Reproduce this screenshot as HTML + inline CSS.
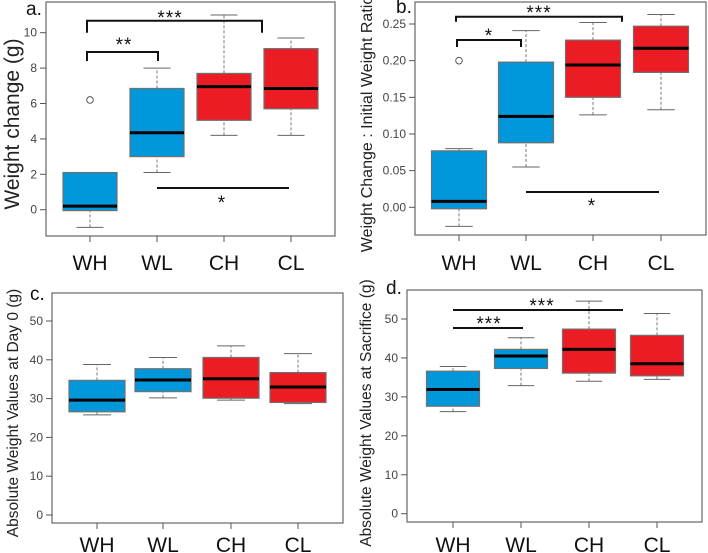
<!DOCTYPE html>
<html><head><meta charset="utf-8"><style>
body{margin:0;background:#fff;}
svg{display:block;font-family:"Liberation Sans",Arial,sans-serif;}
</style></head><body>
<svg id="fig" width="708" height="553"></svg>
<script>
const categories = ["WH","WL","CH","CL"];
const colors = ["#0098da","#0098da","#ec1c24","#ec1c24"];
// [low whisker, q1, median, q3, high whisker]
const statsA = [[-1,-0.05,0.2,2.1,2.1],[2.1,3.0,4.35,6.85,8.0],[4.2,5.05,6.95,7.7,11.0],[4.2,5.7,6.85,9.1,9.7]];
const outliersA = [[6.2],[],[],[]];
const ticksA = [0,2,4,6,8,10];
const statsB = [[-0.026,-0.002,0.008,0.077,0.080],[0.055,0.088,0.124,0.198,0.241],[0.126,0.150,0.194,0.228,0.252],[0.133,0.184,0.217,0.247,0.263]];
const outliersB = [[0.200],[],[],[]];
const ticksB = [0,0.05,0.10,0.15,0.20,0.25];
const tickLabelsB = ["0.00","0.05","0.10","0.15","0.20","0.25"];
const statsC = [[25.8,26.6,29.6,34.7,38.8],[30.2,31.8,34.8,37.7,40.6],[29.6,30.1,35.1,40.6,43.6],[28.7,29.0,33.0,36.7,41.6]];
const ticksC = [0,10,20,30,40,50];
const statsD = [[26.2,27.6,31.9,36.6,37.8],[32.9,37.3,40.5,42.2,45.2],[34.0,36.1,42.2,47.4,54.6],[34.5,35.4,38.5,45.8,51.4]];
const ticksD = [0,10,20,30,40,50];

const svg=document.getElementById('fig');
const NS='http://www.w3.org/2000/svg';
function mk(tag,attrs,parent,text){const e=document.createElementNS(NS,tag);for(const k in attrs)e.setAttribute(k,attrs[k]);if(text!==undefined)e.textContent=text;(parent||svg).appendChild(e);return e;}

function panel(p){
  const g=mk('g',{});
  
  
  const y=v=>p.y0+(v-p.v0)*(p.y1-p.y0)/(p.v1-p.v0);
  const fr=mk('rect',{x:p.fl,y:p.ft,width:p.fr-p.fl,height:p.fb-p.ft,fill:'none',stroke:'#666','stroke-width':1.2},g);
  
  p.ticks.forEach((t,i)=>{
    const yy=y(t);
    mk('line',{x1:p.fl-6,x2:p.fl,y1:yy,y2:yy,stroke:'#555'},g);
    const tl=mk('text',{x:p.fl-9,y:yy+4,'font-size':12,fill:'#444','text-anchor':'end'},g,p.tickLabels?p.tickLabels[i]:String(t));
    
  });
  const yt=mk('text',{x:0,y:0,'font-size':p.tfs,fill:'#222','text-anchor':'middle',transform:`translate(${p.tx},${p.ty}) rotate(-90)`},g,p.title);
  
  const lb=mk('text',{x:p.lx,y:p.ly,'font-size':19,fill:'#111'},g,p.id+'.');
  
  categories.forEach((c,i)=>{
    const cx=p.cx[i], s=p.stats[i], w=p.bw;
    mk('line',{x1:cx,x2:cx,y1:p.fb,y2:p.fb+6,stroke:'#555'},g);
    const xl=mk('text',{x:cx,y:p.lby,'font-size':21,fill:'#111','text-anchor':'middle'},g,c);
    
    const bg=mk('g',{},g);
    
    mk('line',{x1:cx,x2:cx,y1:y(s[0]),y2:y(s[1]),stroke:'#777','stroke-dasharray':'3,2'},bg);
    mk('line',{x1:cx,x2:cx,y1:y(s[3]),y2:y(s[4]),stroke:'#777','stroke-dasharray':'3,2'},bg);
    mk('line',{x1:cx-w/4,x2:cx+w/4,y1:y(s[0]),y2:y(s[0]),stroke:'#666'},bg);
    mk('line',{x1:cx-w/4,x2:cx+w/4,y1:y(s[4]),y2:y(s[4]),stroke:'#666'},bg);
    mk('rect',{x:cx-w/2,y:y(s[3]),width:w,height:y(s[1])-y(s[3]),fill:colors[i],stroke:'#707070','stroke-width':1.2},bg);
    mk('line',{x1:cx-w/2,x2:cx+w/2,y1:y(s[2]),y2:y(s[2]),stroke:'#000','stroke-width':3},bg);
    (p.out?p.out[i]:[]).forEach(o=>{
      const oc=mk('circle',{cx:cx,cy:y(o),r:3.3,fill:'#fff',stroke:'#555'},bg);
      
    });
  });
  (p.sig||[]).forEach(s=>{
    const sg=mk('g',{},g);
    
    const d=s.drop?`M${s.x1},${s.y+s.drop}V${s.y}H${s.x2}V${s.y+s.drop}`:`M${s.x1},${s.y}H${s.x2}`;
    mk('path',{d:d,fill:'none',stroke:'#111','stroke-width':2},sg);
    mk('text',{x:s.tx,y:s.ty,'font-size':19,fill:'#111','text-anchor':'middle','letter-spacing':1},sg,s.t);
  });
}

panel({id:'a',fl:46,fr:335,ft:2,fb:236,v0:0,y0:209.7,v1:10,y1:32.7,ticks:ticksA,stats:statsA,out:outliersA,
  cx:[90,157,224,291],bw:54,lby:270,title:'Weight change (g)',tfs:21,tx:19,ty:124,lx:26,ly:15,
  sig:[{x1:87,x2:262,y:20.7,drop:12,t:'***',tx:170,ty:24},{x1:87,x2:158,y:52,drop:9,t:'**',tx:124,ty:51},{x1:157,x2:289,y:188,t:'*',tx:222,ty:209}]});
panel({id:'b',fl:415,fr:706,ft:2,fb:235,v0:0,y0:207.3,v1:0.25,y1:24,ticks:ticksB,tickLabels:tickLabelsB,stats:statsB,out:outliersB,
  cx:[459,526,593,661],bw:55,lby:270,title:'Weight Change : Initial Weight Ratio',tfs:16,tx:372,ty:124,lx:396,ly:13,
  sig:[{x1:456,x2:622,y:16.7,drop:5,t:'***',tx:539,ty:19},{x1:457,x2:521,y:40,drop:7,t:'*',tx:489,ty:42},{x1:526,x2:659,y:192,t:'*',tx:592,ty:212}]});
panel({id:'c',fl:52,fr:343,ft:293,fb:523,v0:0,y0:515,v1:50,y1:321,ticks:ticksC,stats:statsC,
  cx:[97,163,231,298],bw:56,lby:552,title:'Absolute Weight Values at Day 0 (g)',tfs:15.5,tx:18,ty:413,lx:30,ly:300});
panel({id:'d',fl:407,fr:702,ft:290,fb:522,v0:0,y0:513.7,v1:50,y1:319,ticks:ticksD,stats:statsD,
  cx:[453,521,589,657],bw:53,lby:552,title:'Absolute Weight Values at Sacrifice (g)',tfs:15.5,tx:371,ty:413,lx:386,ly:294,
  sig:[{x1:453,x2:623,y:310,t:'***',tx:542,ty:312},{x1:453,x2:523,y:328,t:'***',tx:489,ty:330}]});
</script>
</body></html>
